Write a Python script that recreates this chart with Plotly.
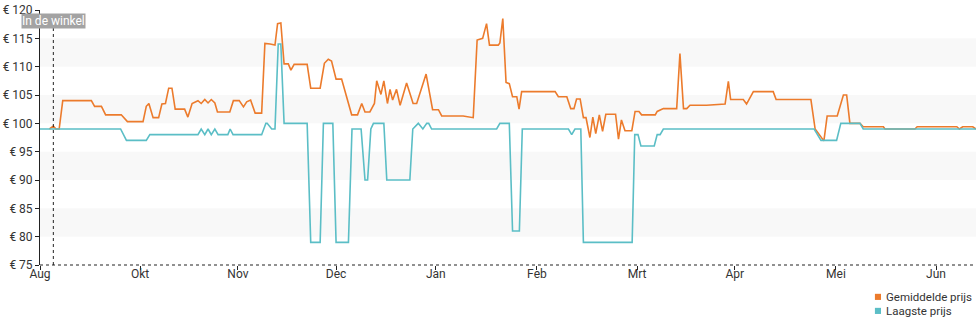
import plotly.graph_objects as go

# ---- data (x = days since start of the axis) ----
avg_days = [2.9, 4.1, 4.9, 5.9, 7.0, 15.8, 16.8, 18.9, 20.2, 25.0, 26.9, 31.7, 32.7, 33.5, 34.8, 36.5,
            37.5, 38.6, 39.6, 40.6, 41.6, 44.5, 45.5, 46.8, 48.6, 49.6, 50.7, 51.7, 52.7, 53.8, 54.6,
            58.4, 59.5, 61.3, 62.6, 63.6, 64.8, 66.2, 68.2, 69.2, 70.8, 72.3, 73.1, 74.1, 75.1, 76.4,
            77.2, 78.2, 82.2, 83.3, 86.2, 87.5, 88.7, 89.7, 91.1, 92.8, 95.9, 97.7, 99.0, 100.0, 101.5,
            102.9, 103.6, 104.9, 105.8, 106.9, 107.7, 108.5, 109.7, 110.8, 112.8, 114.8, 115.9, 118.8,
            120.8, 122.6, 123.6, 130.2, 133.3, 134.5, 136.2, 137.4, 138.3, 141.0, 141.5, 142.4, 143.4,
            144.4, 145.4, 146.7, 147.4, 148.2, 158.5, 159.5, 162.1, 163.3, 164.3, 165.1, 166.2, 167.2,
            168.0, 169.2, 170.1, 171.0, 172.1, 173.1, 174.1, 177.1, 178.0, 178.9, 180.0, 182.1, 183.1,
            184.3, 185.1, 189.3, 189.9, 191.8, 195.9, 196.9, 198.0, 199.0, 200.0, 205.1, 210.8, 211.8,
            212.5, 216.4, 217.4, 219.5, 225.6, 226.5, 237.2, 238.5, 241.2, 242.2, 245.3, 247.2, 248.2,
            249.2, 252.3, 253.3, 259.5, 260.0, 269.2, 269.9, 282.1, 282.9, 283.9, 287.0, 288.0]
avg_price = [99, 99.5, 99, 99, 104, 104, 103, 103, 101.5, 101.5, 100.3, 100.3, 103, 103.5, 101, 101,
             103.4, 103.5, 106.2, 106.2, 102.5, 102.5, 101.1, 103.5, 104, 103.5, 104.2, 103.6, 104.2, 103.6, 102,
             102, 104, 104, 102.9, 103.8, 104.1, 101.8, 101.8, 114.1, 114, 113.8, 117.6, 117.7, 110.5, 110.5,
             109.4, 110.4, 110.4, 106.2, 106.2, 110.6, 111.3, 111.0, 107.8, 107.8, 101.5, 101.5, 103.5, 102, 102,
             103.5, 107.5, 105.1, 107.5, 103.5, 106, 104.1, 106, 103.2, 107.1, 103.5, 103.5, 108.7,
             102.4, 102.4, 101.3, 101.3, 101, 114.7, 115, 117.6, 113.8, 113.8, 114.2, 118.5, 107.2,
             107, 104.7, 104.7, 102.5, 105.6, 105.6, 104.7, 104.7, 102.6, 102.6, 104.3, 104.3, 101,
             101, 97.5, 101.1, 98.2, 101.5, 98.6, 101.6, 101.6, 97.2, 100.6, 98.7, 98.7, 102.1,
             102.1, 101.5, 101.5, 102.1, 102.6, 102.6, 112.3, 102.6, 102.6, 103.2, 103.2, 103.4, 107.4,
             104.2, 104.2, 103.4, 105.6, 105.6, 104.2, 104.2, 99, 96.9, 101.3, 101.3, 105, 105,
             100, 100, 99.4, 99.4, 99, 99, 99.4, 99.4, 99, 99.4, 99.4, 99]

low_days = [0, 24.8, 26.6, 32.7, 33.8, 48.6, 49.6, 50.7, 51.7, 52.7, 53.8, 54.8, 57.8, 58.5, 59.4,
            68.2, 69.5, 69.9, 71.3, 72.3, 73.3, 74.1, 75.1, 82.2, 83.3, 86.2, 87.2, 90.1, 91.1, 94.9,
            96.0, 98.8, 100.0, 100.8, 101.8, 102.6, 105.8, 106.7, 113.8, 114.7, 116.4, 117.8, 119.0,
            119.6, 120.5, 140.5, 141.5, 144.4, 145.4, 147.5, 148.4, 162.6, 163.6, 164.6, 166.4, 167.2,
            182.2, 183.0, 184.0, 184.9, 189.0, 189.9, 190.8, 191.8, 238.2, 240.3, 245.1, 246.4, 252.3,
            253.3, 288.0]
low_price = [99, 99, 97, 97, 98, 98, 99, 98, 99, 98, 99, 98, 98, 99, 98,
             98, 100, 100, 99, 99, 114, 114, 100, 100, 79, 79, 100, 100, 79, 79,
             99, 99, 90, 90, 99, 100, 100, 90, 90, 99, 100, 99, 100,
             100, 99, 99, 100, 100, 81, 81, 99, 99, 98, 99, 99, 79,
             79, 98, 98, 96, 96, 98, 98, 99, 99, 97, 97, 100, 100,
             99, 99]

store_day = 4.1
store_label = "In de winkel"

y_ticks = [75, 80, 85, 90, 95, 100, 105, 110, 115, 120]
y_tick_text = ["€ %d" % v for v in y_ticks]
month_tick_days = [0, 30.8, 60.9, 91.1, 121.8, 152.9, 183.7, 213.8, 244.9, 275.7]
month_labels = ["Aug", "Okt", "Nov", "Dec", "Jan", "Feb", "Mrt", "Apr", "Mei", "Jun"]
band_ranges = [(80, 85), (90, 95), (100, 105), (110, 115)]

series_names = ["Gemiddelde prijs", "Laagste prijs"]
ORANGE = "#EC7B2C"
TEAL = "#5BBEC6"
colors = [ORANGE, TEAL]

fig = go.Figure()
fig.add_trace(go.Scatter(x=avg_days, y=avg_price, mode="lines", name=series_names[0],
                         line=dict(color=ORANGE, width=1.6), showlegend=False, hoverinfo="skip"))
fig.add_trace(go.Scatter(x=low_days, y=low_price, mode="lines", name=series_names[1],
                         line=dict(color=TEAL, width=1.6), showlegend=False, hoverinfo="skip"))

for lo, hi in band_ranges:
    fig.add_shape(type="rect", xref="paper", yref="y", x0=0, x1=1, y0=lo, y1=hi,
                  fillcolor="#f8f8f8", line=dict(width=0), layer="below")

# dotted x-axis line
fig.add_shape(type="line", xref="paper", yref="paper", x0=0, x1=1, y0=0, y1=0,
              line=dict(color="#222", width=1, dash="dot"))
# store marker
fig.add_shape(type="line", xref="x", yref="paper", x0=store_day, x1=store_day, y0=0, y1=0.985,
              line=dict(color="#222", width=1, dash="dot"))
fig.add_annotation(x=store_day, y=118.1, xref="x", yref="y", text=store_label, showarrow=False,
                   bgcolor="#a3a3a3", font=dict(color="white", size=12, family="Roboto"),
                   borderpad=0, xanchor="center", yanchor="middle")

# legend (bottom right): coloured squares + labels
legend_y = [-0.125, -0.18]
for name, col, ly in zip(series_names, colors, legend_y):
    fig.add_shape(type="rect", xref="paper", yref="paper", x0=0.892, x1=0.8985,
                  y0=ly - 0.012, y1=ly + 0.012, fillcolor=col, line=dict(width=0))
    fig.add_annotation(x=0.9017, y=ly, xref="paper", yref="paper", text=name, showarrow=False,
                       xanchor="left", yanchor="middle", font=dict(size=11.5, color="#333"))

fig.update_layout(
    width=980, height=325,
    margin=dict(l=40, r=4, t=10, b=60),
    paper_bgcolor="white", plot_bgcolor="white",
    font=dict(family="Roboto", size=12, color="#333"),
    showlegend=False,
    xaxis=dict(range=[0, 288], tickvals=month_tick_days, ticktext=month_labels,
               showgrid=False, zeroline=False, showline=False,
               ticks="outside", ticklen=4, tickcolor="#222", ticklabelstandoff=-6,
               fixedrange=True),
    yaxis=dict(range=[75, 120], tickvals=y_ticks, ticktext=y_tick_text,
               showgrid=False, zeroline=False, showline=True, linecolor="#222", linewidth=1,
               ticks="outside", ticklen=4, tickcolor="#222", fixedrange=True),
)

fig.write_html("out.html")
